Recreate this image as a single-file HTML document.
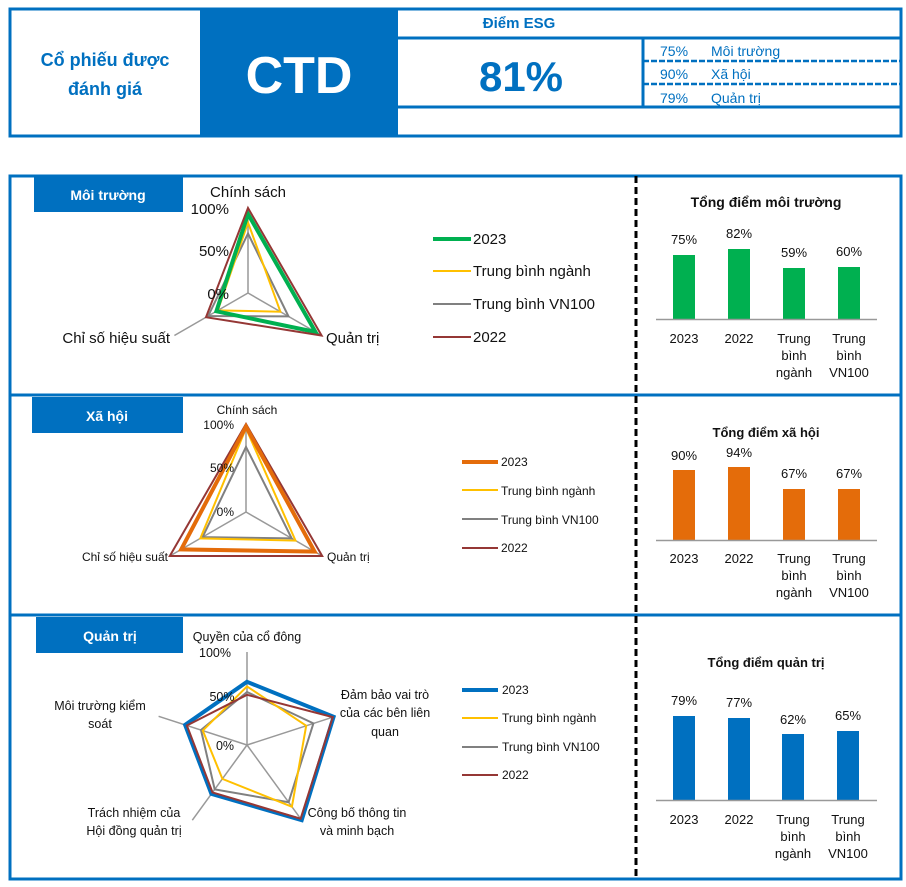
<!DOCTYPE html>
<html><head><meta charset="utf-8"><style>
html,body{margin:0;padding:0;background:#fff}
svg{display:block;font-family:"Liberation Sans",sans-serif}
</style></head><body>
<svg width="906" height="887" viewBox="0 0 906 887" xmlns="http://www.w3.org/2000/svg">
<rect width="906" height="887" fill="#fff"/>
<!-- header -->
<rect x="200" y="9" width="198" height="127" fill="#0070C0"/>
<rect x="10" y="9" width="891" height="127" fill="none" stroke="#0070C0" stroke-width="3"/>
<text x="105" y="66" text-anchor="middle" font-size="18" font-weight="bold" fill="#0070C0">Cổ phiếu được</text>
<text x="105" y="95" text-anchor="middle" font-size="18" font-weight="bold" fill="#0070C0">đánh giá</text>
<text x="299" y="93" text-anchor="middle" font-size="52" font-weight="bold" fill="#fff">CTD</text>
<line x1="398" y1="38" x2="902" y2="38" stroke="#0070C0" stroke-width="3"/>
<line x1="398" y1="107" x2="902" y2="107" stroke="#0070C0" stroke-width="3"/>
<line x1="643" y1="38" x2="643" y2="107" stroke="#0070C0" stroke-width="3"/>
<line x1="643" y1="61" x2="902" y2="61" stroke="#0070C0" stroke-width="2.5" stroke-dasharray="6,2"/>
<line x1="643" y1="84" x2="902" y2="84" stroke="#0070C0" stroke-width="2.5" stroke-dasharray="6,2"/>
<text x="519" y="28" text-anchor="middle" font-size="15" font-weight="bold" fill="#0070C0">Điểm ESG</text>
<text x="521" y="91" text-anchor="middle" font-size="42" font-weight="bold" fill="#0070C0">81%</text>
<g font-size="14" fill="#0070C0">
<text x="660" y="56">75%</text><text x="711" y="56">Môi trường</text>
<text x="660" y="79">90%</text><text x="711" y="79">Xã hội</text>
<text x="660" y="103">79%</text><text x="711" y="103">Quản trị</text>
</g>
<!-- main frame -->
<rect x="10" y="176" width="891" height="703" fill="none" stroke="#0070C0" stroke-width="3"/>
<line x1="10" y1="395" x2="902" y2="395" stroke="#0070C0" stroke-width="3"/>
<line x1="10" y1="615" x2="902" y2="615" stroke="#0070C0" stroke-width="3"/>
<line x1="636" y1="176" x2="636" y2="879" stroke="#000" stroke-width="3" stroke-dasharray="7,4"/>

<!-- section 1 -->
<rect x="34" y="176" width="149" height="36" fill="#0070C0"/>
<text x="108" y="200" text-anchor="middle" font-size="14" font-weight="bold" fill="#fff">Môi trường</text>
<g stroke="#999" stroke-width="1.5" fill="none">
<line x1="248" y1="293" x2="248" y2="208"/><line x1="248" y1="293" x2="321.6" y2="335.5"/><line x1="248" y1="293" x2="174.4" y2="335.5"/>
</g>
<polygon points="248,233.5 288.5,316.4 208.2,316" fill="none" stroke="#808080" stroke-width="2"/>
<polygon points="248,222.5 280.4,311.7 217.8,310.4" fill="none" stroke="#FFC000" stroke-width="2"/>
<polygon points="248,214 315.5,332 216.4,311.3" fill="none" stroke="#00B050" stroke-width="4"/>
<polygon points="248,208 321.6,335.5 206,317.2" fill="none" stroke="#953735" stroke-width="2"/>
<g font-size="15" fill="#111">
<text x="248" y="197" text-anchor="middle">Chính sách</text>
<text x="229" y="214" text-anchor="end">100%</text>
<text x="229" y="256" text-anchor="end">50%</text>
<text x="229" y="299" text-anchor="end">0%</text>
<text x="170" y="343" text-anchor="end">Chỉ số hiệu suất</text>
<text x="326" y="343">Quản trị</text>
<text x="473" y="244">2023</text>
<text x="473" y="276">Trung bình ngành</text>
<text x="473" y="309">Trung bình VN100</text>
<text x="473" y="342">2022</text>
</g>
<line x1="433" y1="239" x2="471" y2="239" stroke="#00B050" stroke-width="4"/>
<line x1="433" y1="271" x2="471" y2="271" stroke="#FFC000" stroke-width="2"/>
<line x1="433" y1="304" x2="471" y2="304" stroke="#808080" stroke-width="2"/>
<line x1="433" y1="337" x2="471" y2="337" stroke="#953735" stroke-width="2"/>
<text x="766" y="207" text-anchor="middle" font-size="14" font-weight="bold" fill="#111">Tổng điểm môi trường</text>
<g fill="#00B050">
<rect x="673" y="255" width="22" height="64"/><rect x="728" y="249" width="22" height="70"/>
<rect x="783" y="268" width="22" height="51"/><rect x="838" y="267" width="22" height="52"/>
</g>
<line x1="656" y1="319.5" x2="877" y2="319.5" stroke="#999" stroke-width="1.5"/>
<g font-size="13" fill="#111" text-anchor="middle">
<text x="684" y="244">75%</text><text x="739" y="238">82%</text><text x="794" y="257">59%</text><text x="849" y="256">60%</text>
<text x="684" y="343">2023</text><text x="739" y="343">2022</text>
<text x="794" y="343">Trung</text><text x="794" y="360">bình</text><text x="794" y="377">ngành</text>
<text x="849" y="343">Trung</text><text x="849" y="360">bình</text><text x="849" y="377">VN100</text>
</g>

<!-- section 2 -->
<rect x="32" y="397" width="151" height="36" fill="#0070C0"/>
<text x="107" y="421" text-anchor="middle" font-size="14" font-weight="bold" fill="#fff">Xã hội</text>
<g stroke="#999" stroke-width="1.5" fill="none">
<line x1="246" y1="512" x2="246" y2="424"/><line x1="246" y1="512" x2="322.2" y2="556"/><line x1="246" y1="512" x2="169.8" y2="556"/>
</g>
<polygon points="246,446.9 291.7,538.4 202.6,537.1" fill="none" stroke="#808080" stroke-width="2"/>
<polygon points="246,428.4 295.5,540.6 200.3,538.4" fill="none" stroke="#FFC000" stroke-width="2"/>
<polygon points="246,424 322.2,556 169.8,556" fill="none" stroke="#953735" stroke-width="2"/>
<polygon points="246,426.6 314.6,551.6 181.2,549.4" fill="none" stroke="#E46C0A" stroke-width="4"/>
<g font-size="12" fill="#111">
<text x="247" y="414" text-anchor="middle">Chính sách</text>
<text x="234" y="429" text-anchor="end">100%</text>
<text x="234" y="472" text-anchor="end">50%</text>
<text x="234" y="516" text-anchor="end">0%</text>
<text x="168" y="561" text-anchor="end">Chỉ số hiệu suất</text>
<text x="327" y="561">Quản trị</text>
<text x="501" y="466">2023</text>
<text x="501" y="495">Trung bình ngành</text>
<text x="501" y="524">Trung bình VN100</text>
<text x="501" y="552">2022</text>
</g>
<line x1="462" y1="462" x2="498" y2="462" stroke="#E46C0A" stroke-width="4"/>
<line x1="462" y1="490" x2="498" y2="490" stroke="#FFC000" stroke-width="2"/>
<line x1="462" y1="519" x2="498" y2="519" stroke="#808080" stroke-width="2"/>
<line x1="462" y1="548" x2="498" y2="548" stroke="#953735" stroke-width="2"/>
<text x="766" y="437" text-anchor="middle" font-size="13" font-weight="bold" fill="#111">Tổng điểm xã hội</text>
<g fill="#E46C0A">
<rect x="673" y="470" width="22" height="70"/><rect x="728" y="467" width="22" height="73"/>
<rect x="783" y="489" width="22" height="51"/><rect x="838" y="489" width="22" height="51"/>
</g>
<line x1="656" y1="540.5" x2="877" y2="540.5" stroke="#999" stroke-width="1.5"/>
<g font-size="13" fill="#111" text-anchor="middle">
<text x="684" y="460">90%</text><text x="739" y="457">94%</text><text x="794" y="478">67%</text><text x="849" y="478">67%</text>
<text x="684" y="563">2023</text><text x="739" y="563">2022</text>
<text x="794" y="563">Trung</text><text x="794" y="580">bình</text><text x="794" y="597">ngành</text>
<text x="849" y="563">Trung</text><text x="849" y="580">bình</text><text x="849" y="597">VN100</text>
</g>

<!-- section 3 -->
<rect x="36" y="617" width="147" height="36" fill="#0070C0"/>
<text x="110" y="641" text-anchor="middle" font-size="14" font-weight="bold" fill="#fff">Quản trị</text>
<g stroke="#999" stroke-width="1.5" fill="none">
<line x1="247" y1="745" x2="247" y2="652"/><line x1="247" y1="745" x2="335.4" y2="716.3"/><line x1="247" y1="745" x2="301.7" y2="820.2"/>
<line x1="247" y1="745" x2="192.3" y2="820.2"/><line x1="247" y1="745" x2="158.6" y2="716.3"/>
</g>
<polygon points="247,692 313.4,723.4 288.6,802.2 214.7,789.4 201,730" fill="none" stroke="#808080" stroke-width="2"/>
<polygon points="247,686.4 306.2,725.7 291.9,806.7 222.4,778.9 202.8,730.6" fill="none" stroke="#FFC000" stroke-width="2"/>
<polygon points="247,681.8 333.6,716.8 301.7,820.2 211.4,793.9 185.1,724.9" fill="none" stroke="#0070C0" stroke-width="4"/>
<polygon points="247,694.8 332.8,717.1 300.6,818.7 212.5,792.4 186.9,725.5" fill="none" stroke="#953735" stroke-width="2"/>
<g font-size="12.5" fill="#111" text-anchor="middle">
<text x="247" y="641">Quyền của cổ đông</text>
<text x="215" y="657">100%</text>
<text x="222" y="701">50%</text>
<text x="225" y="750">0%</text>
<text x="385" y="699">Đảm bảo vai trò</text>
<text x="385" y="717">của các bên liên</text>
<text x="385" y="736">quan</text>
<text x="357" y="817">Công bố thông tin</text>
<text x="357" y="835">và minh bạch</text>
<text x="134" y="817">Trách nhiệm của</text>
<text x="134" y="835">Hội đồng quản trị</text>
<text x="100" y="710">Môi trường kiểm</text>
<text x="100" y="728">soát</text>
</g>
<g font-size="12" fill="#111">
<text x="502" y="694">2023</text>
<text x="502" y="722">Trung bình ngành</text>
<text x="502" y="751">Trung bình VN100</text>
<text x="502" y="779">2022</text>
</g>
<line x1="462" y1="690" x2="498" y2="690" stroke="#0070C0" stroke-width="4"/>
<line x1="462" y1="718" x2="498" y2="718" stroke="#FFC000" stroke-width="2"/>
<line x1="462" y1="747" x2="498" y2="747" stroke="#808080" stroke-width="2"/>
<line x1="462" y1="775" x2="498" y2="775" stroke="#953735" stroke-width="2"/>
<text x="766" y="667" text-anchor="middle" font-size="13" font-weight="bold" fill="#111">Tổng điểm quản trị</text>
<g fill="#0070C0">
<rect x="673" y="716" width="22" height="84"/><rect x="728" y="718" width="22" height="82"/>
<rect x="782" y="734" width="22" height="66"/><rect x="837" y="731" width="22" height="69"/>
</g>
<line x1="656" y1="800.5" x2="877" y2="800.5" stroke="#999" stroke-width="1.5"/>
<g font-size="13" fill="#111" text-anchor="middle">
<text x="684" y="705">79%</text><text x="739" y="707">77%</text><text x="793" y="724">62%</text><text x="848" y="720">65%</text>
<text x="684" y="824">2023</text><text x="739" y="824">2022</text>
<text x="793" y="824">Trung</text><text x="793" y="841">bình</text><text x="793" y="858">ngành</text>
<text x="848" y="824">Trung</text><text x="848" y="841">bình</text><text x="848" y="858">VN100</text>
</g>
</svg>
</body></html>
